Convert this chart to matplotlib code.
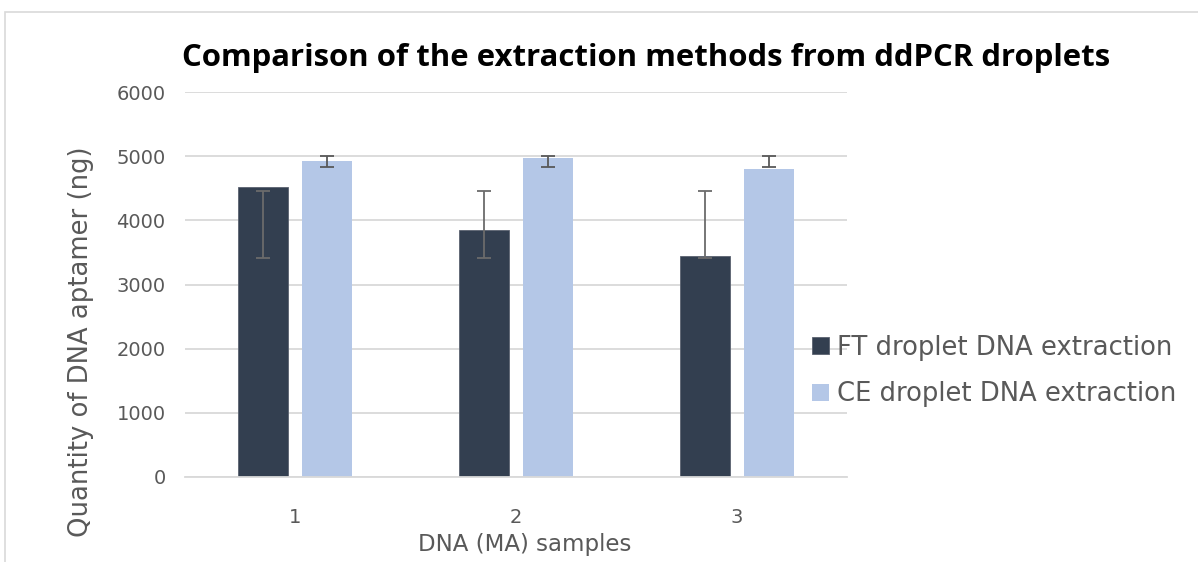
import matplotlib
matplotlib.use("Agg")
import matplotlib.pyplot as plt
from matplotlib.patches import Rectangle
import numpy as np

categories = ["1", "2", "3"]
series_names = ["FT droplet DNA extraction", "CE droplet DNA extraction"]
ft_values = [4515, 3852, 3437]
ce_values = [4930, 4972, 4800]
ft_err_low = [3420, 3420, 3420]
ft_err_high = [4452, 4452, 4452]
ce_err_low = [4826, 4826, 4826]
ce_err_high = [5008, 5008, 5008]
y_ticks = [0, 1000, 2000, 3000, 4000, 5000, 6000]

ft_color = "#333F50"
ce_color = "#B4C7E7"
text_gray = "#595959"
grid_gray = "#D9D9D9"

fig = plt.figure(figsize=(11.98, 5.62), dpi=100)
ax = fig.add_axes([185 / 1198, (562 - 477) / 562, (847 - 185) / 1198, (477 - 92) / 562])

x = np.arange(len(categories))
w = 0.227
off = 0.145
ax.bar(x - off, ft_values, width=w, color=ft_color, label=series_names[0], zorder=2,
       edgecolor="#5a6270", linewidth=0.6)
ax.bar(x + off, ce_values, width=w, color=ce_color, label=series_names[1], zorder=2)

for xs, lo, hi, col in [(x - off, ft_err_low, ft_err_high, "#6b6b6b"),
                        (x + off, ce_err_low, ce_err_high, "#595959")]:
    lo = np.array(lo, float)
    hi = np.array(hi, float)
    ax.errorbar(xs, (lo + hi) / 2, yerr=(hi - lo) / 2, fmt="none", ecolor=col,
                elinewidth=1.3, capsize=4.7, capthick=1.3, zorder=3)

ax.set_xlim(-0.5, 2.5)
ax.set_ylim(0, 6000)
ax.set_yticks(y_ticks)
ax.set_yticklabels([str(v) for v in y_ticks])
ax.set_xticks(x)
ax.set_xticklabels(categories)
ax.grid(axis="y", color=grid_gray, linewidth=1.3, zorder=0)
ax.set_axisbelow(True)
for s in ["top", "right", "left"]:
    ax.spines[s].set_visible(False)
ax.spines["bottom"].set_color(grid_gray)
ax.spines["bottom"].set_linewidth(1.3)
ax.tick_params(axis="both", length=0, colors=text_gray, labelsize=14)
ax.tick_params(axis="y", pad=14)
ax.tick_params(axis="x", pad=22)

fig.text(81 / 1198, 1 - 342 / 562, "Quantity of DNA aptamer (ng)", rotation=90,
         ha="center", va="center", fontsize=18.6, color=text_gray)
fig.text(525 / 1198, 1 - 545 / 562, "DNA (MA) samples", ha="center", va="center",
         fontsize=16.5, color=text_gray)
fig.text(646 / 1198, 1 - 58 / 562, "Comparison of the extraction methods from ddPCR droplets",
         ha="center", va="center", fontsize=22.4, fontweight="bold", family="Open Sans",
         color="#000000")

leg = fig.legend(loc="center left", bbox_to_anchor=(812 / 1198, 1 - 371 / 562), frameon=False,
                 fontsize=18.6, labelcolor=text_gray, handlelength=0.66, handleheight=0.66,
                 handletextpad=0.3, labelspacing=0.8, borderaxespad=0, borderpad=0)

fig.patches.append(Rectangle((5 / 1198, -0.1), 1.2, 1 - 12 / 562 + 0.1, transform=fig.transFigure,
                             fill=False, edgecolor="#D9D9D9", linewidth=1.2))

fig.savefig("out.png", dpi=100)
